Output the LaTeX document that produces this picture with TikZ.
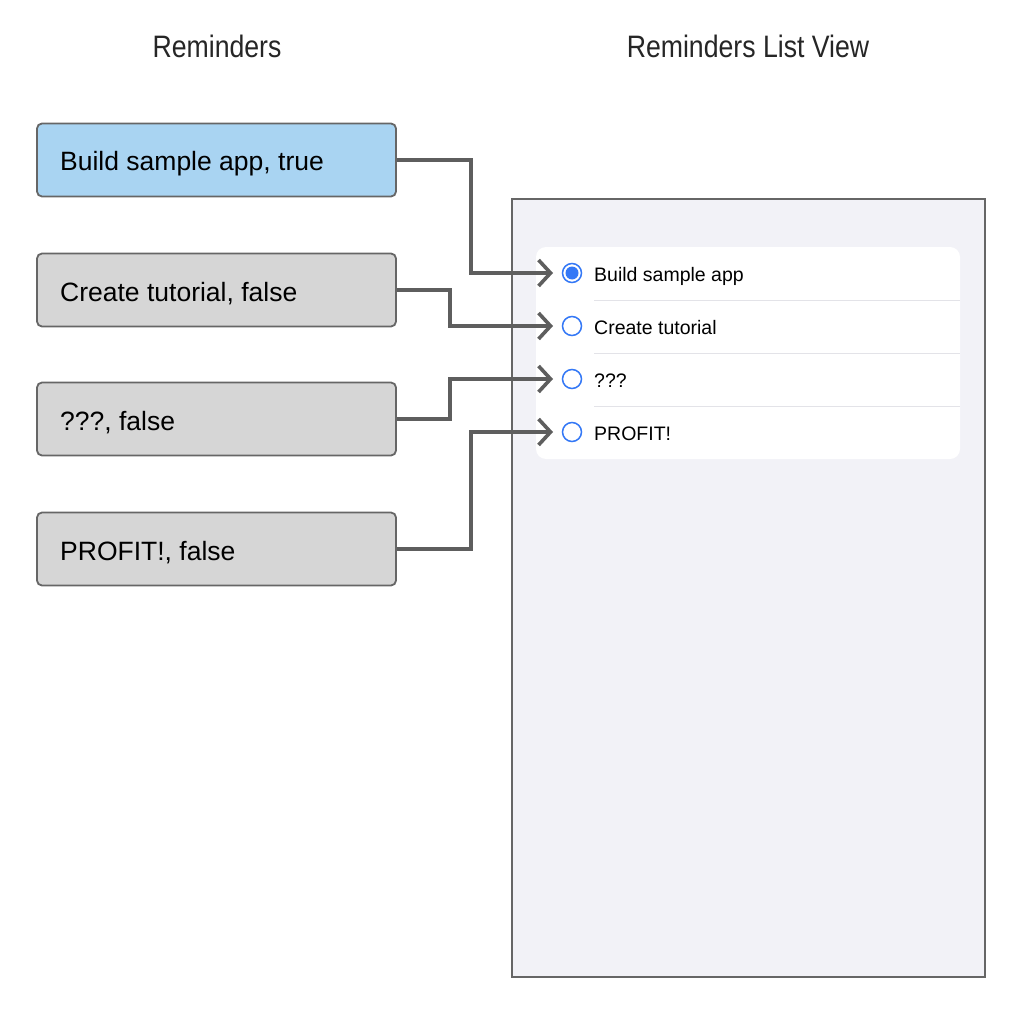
\documentclass[tikz,border=0pt]{standalone}
\usepackage{fontspec}
\setmainfont{Liberation Sans}
\usetikzlibrary{arrows.meta}
\definecolor{boxblue}{HTML}{A9D4F2}
\definecolor{boxgrey}{HTML}{D6D6D6}
\definecolor{edge}{HTML}{666666}
\definecolor{arr}{HTML}{5E5E5E}
\definecolor{phonebg}{HTML}{F2F2F7}
\definecolor{sep}{HTML}{E3E3E8}
\definecolor{iosblue}{HTML}{3478F6}
\tikzset{
  x=1pt, y=-1pt,
  rembox/.style={draw=edge, line width=1.8pt, rounded corners=5pt, minimum width=359pt, minimum height=73pt, inner sep=0pt},
  boxtext/.style={anchor=base west, inner sep=0pt, font=\fontsize{26.5}{30}\selectfont, text=black},
  title/.style={anchor=base, inner sep=0pt, font=\fontsize{31}{34}\selectfont, text=black!85},
  rowtext/.style={anchor=base west, inner sep=0pt, font=\fontsize{19.5}{22}\selectfont, text=black},
  radio/.style={circle, draw=iosblue, line width=1.5pt, minimum size=19pt, inner sep=0pt, fill=white},
  conn/.style={draw=arr, line width=4pt, -{Straight Barb[length=12pt, width=26pt, line width=3.6pt]}},
}
\begin{document}
\begin{tikzpicture}
\useasboundingbox (0,0) rectangle (1024,1024);
\fill[white] (0,0) rectangle (1024,1024);
% titles
\node[title] (t1) at (217,58) {\scalebox{0.86}[1]{Reminders}};
\node[title] (t2) at (748,58) {\scalebox{0.86}[1]{Reminders List View}};
% phone
\node[draw=edge, line width=1.8pt, fill=phonebg, minimum width=473pt, minimum height=778pt, inner sep=0pt] (phone) at (748.5,588) {};
\node[fill=white, rounded corners=10pt, minimum width=424pt, minimum height=212pt, inner sep=0pt] (card) at (748,353) {};
\foreach \yy in {300,353,406} \draw[sep, line width=1pt] (594,\yy) -- (960,\yy);
% radios
\node[radio] (c1) at (572,273) {};
\fill[iosblue] (c1.center) circle (6.5pt);
\node[radio] (c2) at (572,326) {};
\node[radio] (c3) at (572,379) {};
\node[radio] (c4) at (572,432) {};
\node[rowtext] (r1) at (594,281) {Build sample app};
\node[rowtext] (r2) at (594,334) {Create tutorial};
\node[rowtext] (r3) at (594,387) {???};
\node[rowtext] (r4) at (594,440) {PROFIT!};
% boxes
\node[rembox, fill=boxblue] (b1) at (216.5,160) {};
\node[rembox, fill=boxgrey] (b2) at (216.5,290) {};
\node[rembox, fill=boxgrey] (b3) at (216.5,419) {};
\node[rembox, fill=boxgrey] (b4) at (216.5,549) {};
\node[boxtext] (l1) at (60,171) {Build sample app, true};
\node[boxtext] (l2) at (60,301) {Create tutorial, false};
\node[boxtext] (l3) at (60,430) {???, false};
\node[boxtext] (l4) at (60,560) {PROFIT!, false};
% targets
\coordinate (e1) at (553,273);
\coordinate (e2) at (553,326);
\coordinate (e3) at (553,379);
\coordinate (e4) at (553,432);
\draw[conn] (b1.east) -- (471,160) -- (471,273) -- (e1);
\draw[conn] (b2.east) -- (450,290) -- (450,326) -- (e2);
\draw[conn] (b3.east) -- (450,419) -- (450,379) -- (e3);
\draw[conn] (b4.east) -- (471,549) -- (471,432) -- (e4);
\end{tikzpicture}
\end{document}
